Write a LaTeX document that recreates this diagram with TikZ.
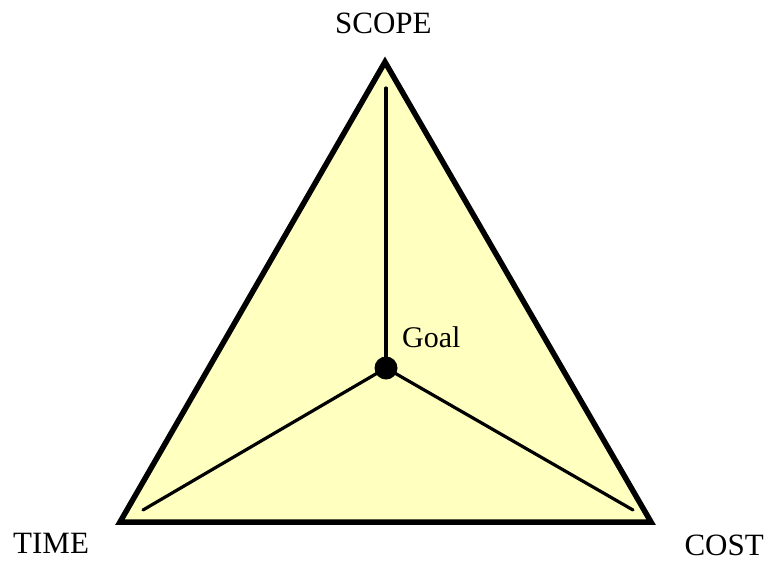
\documentclass[tikz,border=0pt]{standalone}
\usepackage{fontspec}
\setmainfont{Liberation Serif}
\definecolor{paleyellow}{HTML}{FFFFC0}
\begin{document}
\begin{tikzpicture}[x=1pt,y=-1pt,
  tri/.style={draw=black,fill=paleyellow,line width=5.5pt,line join=miter},
  spoke/.style={draw=black,line width=3.2pt,line cap=round},
  lbl/.style={inner sep=0pt,anchor=base west,font=\fontsize{31}{31}\selectfont},
  goaldot/.style={circle,fill=black,inner sep=0pt,minimum size=23pt}]
\useasboundingbox (0,0) rectangle (769,563);
\coordinate (top) at (385,62);
\coordinate (bl) at (120,522);
\coordinate (br) at (651,522);
\draw[tri] (top) -- (bl) -- (br) -- cycle;
\node[goaldot] (goal) at (386,368) {};
\coordinate (st) at (386,88);
\coordinate (sl) at (143,510);
\coordinate (sr) at (633,510);
\draw[spoke] (goal.center) -- (st);
\draw[spoke] (goal.center) -- (sl);
\draw[spoke] (goal.center) -- (sr);
\node[lbl] (scope) at (335,33) {SCOPE};
\node[lbl] (time) at (13,553) {TIME};
\node[lbl,anchor=base east] (cost) at (764,555) {COST};
\node[lbl,font=\fontsize{30}{30}\selectfont] (goallbl) at (402,347) {Goal};
\end{tikzpicture}
\end{document}
